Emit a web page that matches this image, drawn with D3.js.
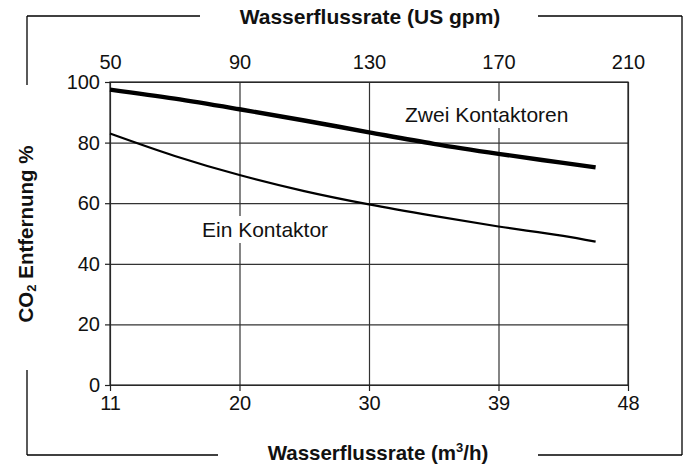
<!DOCTYPE html>
<html>
<head>
<meta charset="utf-8">
<script src="https://cdn.jsdelivr.net/npm/d3@7"></script>
<style>
  body { margin: 0; background: #fff; }
  text { font-family: "Liberation Sans", Arial, sans-serif; }
</style>
</head>
<body>
<div id="container"></div>
<script>
let w = 689;
let h = 465;

// data
let gpmTicks = [50, 90, 130, 170, 210];
let m3hLabels = ["11", "20", "30", "39", "48"];
let yTicks = [0, 20, 40, 60, 80, 100];
let flowGpm = [50, 70, 90, 110, 130, 150, 170, 190, 200];
let zweiKontaktoren = [97.5, 94.5, 91, 87.3, 83.4, 79.6, 76.3, 73.3, 71.8];
let einKontaktor = [83, 75.6, 69.3, 64, 59.6, 55.8, 52.3, 49.2, 47.3];

let pL = 110, pR = 628, pT = 82, pB = 385;

let svg = d3.select("#container").append("svg")
    .attr("width", w)
    .attr("height", h);

let x = d3.scaleLinear().domain([50, 210]).range([pL, pR]);
let y = d3.scaleLinear().domain([0, 100]).range([pB, pT]);

// outer frame with gaps for titles
let frame = [
  [[27, 16], [200, 16]], [[538, 16], [682, 16]],
  [[27, 455], [218, 455]], [[538, 455], [682, 455]],
  [[27, 16], [27, 85]], [[27, 370], [27, 455]],
  [[682, 16], [682, 455]]
];
svg.selectAll(".frame").data(frame).enter().append("line")
    .attr("class", "frame")
    .attr("x1", d => d[0][0]).attr("y1", d => d[0][1])
    .attr("x2", d => d[1][0]).attr("y2", d => d[1][1])
    .attr("stroke", "#000")
    .attr("stroke-width", 1.3);

// grid
svg.append("g")
    .attr("transform", "translate(0," + pB + ")")
    .call(d3.axisBottom(x).tickValues(gpmTicks).tickSize(-(pB - pT)).tickFormat(""))
    .call(g => g.select(".domain").remove())
    .selectAll("line").attr("stroke", "#333").attr("stroke-width", 1.2);
svg.append("g")
    .attr("transform", "translate(" + pL + ",0)")
    .call(d3.axisLeft(y).tickValues(yTicks).tickSize(-(pR - pL)).tickFormat(""))
    .call(g => g.select(".domain").remove())
    .selectAll("line").attr("stroke", "#333").attr("stroke-width", 1.2);

svg.append("rect")
    .attr("x", pL).attr("y", pT)
    .attr("width", pR - pL).attr("height", pB - pT)
    .attr("fill", "none").attr("stroke", "#222").attr("stroke-width", 1.2);

// axes
let ax = svg.append("g")
    .attr("transform", "translate(0," + pB + ")")
    .call(d3.axisBottom(x).tickValues(gpmTicks).tickSize(6).tickPadding(5)
        .tickFormat((d, i) => m3hLabels[i]));
let at = svg.append("g")
    .attr("transform", "translate(0," + pT + ")")
    .call(d3.axisTop(x).tickValues(gpmTicks).tickSize(0).tickPadding(13));
let ay = svg.append("g")
    .attr("transform", "translate(" + pL + ",0)")
    .call(d3.axisLeft(y).tickValues(yTicks).tickSize(5).tickPadding(5));
[ax, at, ay].forEach(g => {
  g.select(".domain").remove();
  g.selectAll("line").attr("stroke", "#222").attr("stroke-width", 1.2);
  g.selectAll("text").attr("font-size", 20).attr("fill", "#111")
    .attr("font-family", "Liberation Sans, Arial, sans-serif");
});

// lines
let line = d3.line()
    .x((d, i) => x(flowGpm[i]))
    .y(d => y(d))
    .curve(d3.curveMonotoneX);

svg.append("path")
    .datum(einKontaktor)
    .attr("d", line)
    .attr("fill", "none")
    .attr("stroke", "#000")
    .attr("stroke-width", 2.2);
svg.append("path")
    .datum(zweiKontaktoren)
    .attr("d", line)
    .attr("fill", "none")
    .attr("stroke", "#000")
    .attr("stroke-width", 4.4);

// series labels with white background
function label(txt, lx, ly) {
  let g = svg.append("g");
  let bg = g.append("rect").attr("fill", "#fff");
  let t = g.append("text")
      .text(txt)
      .attr("x", lx)
      .attr("y", ly)
      .attr("font-size", 21)
      .attr("fill", "#111");
  let b = t.node().getBBox();
  bg.attr("x", b.x - 3).attr("y", b.y - 2)
    .attr("width", b.width + 6).attr("height", b.height + 4);
}
label("Zwei Kontaktoren", 405, 122);
label("Ein Kontaktor", 202, 237);

// titles
svg.append("text")
    .text("Wasserflussrate (US gpm)")
    .attr("x", 370).attr("y", 24)
    .attr("text-anchor", "middle")
    .attr("font-size", 21)
    .attr("font-weight", "bold")
    .attr("fill", "#111");

let bt = svg.append("text")
    .attr("x", 378).attr("y", 460)
    .attr("text-anchor", "middle")
    .attr("font-size", 20.5)
    .attr("font-weight", "bold")
    .attr("fill", "#111");
bt.append("tspan").text("Wasserflussrate (m");
bt.append("tspan").text("3").attr("font-size", 13).attr("dy", -8);
bt.append("tspan").text("/h)").attr("dy", 8);

let yt = svg.append("text")
    .attr("transform", "translate(33,234) rotate(-90)")
    .attr("text-anchor", "middle")
    .attr("font-size", 20.5)
    .attr("font-weight", "bold")
    .attr("fill", "#111");
yt.append("tspan").text("CO");
yt.append("tspan").text("2").attr("font-size", 13).attr("dy", 3);
yt.append("tspan").text(" Entfernung %").attr("dy", -3);
</script>
</body>
</html>
